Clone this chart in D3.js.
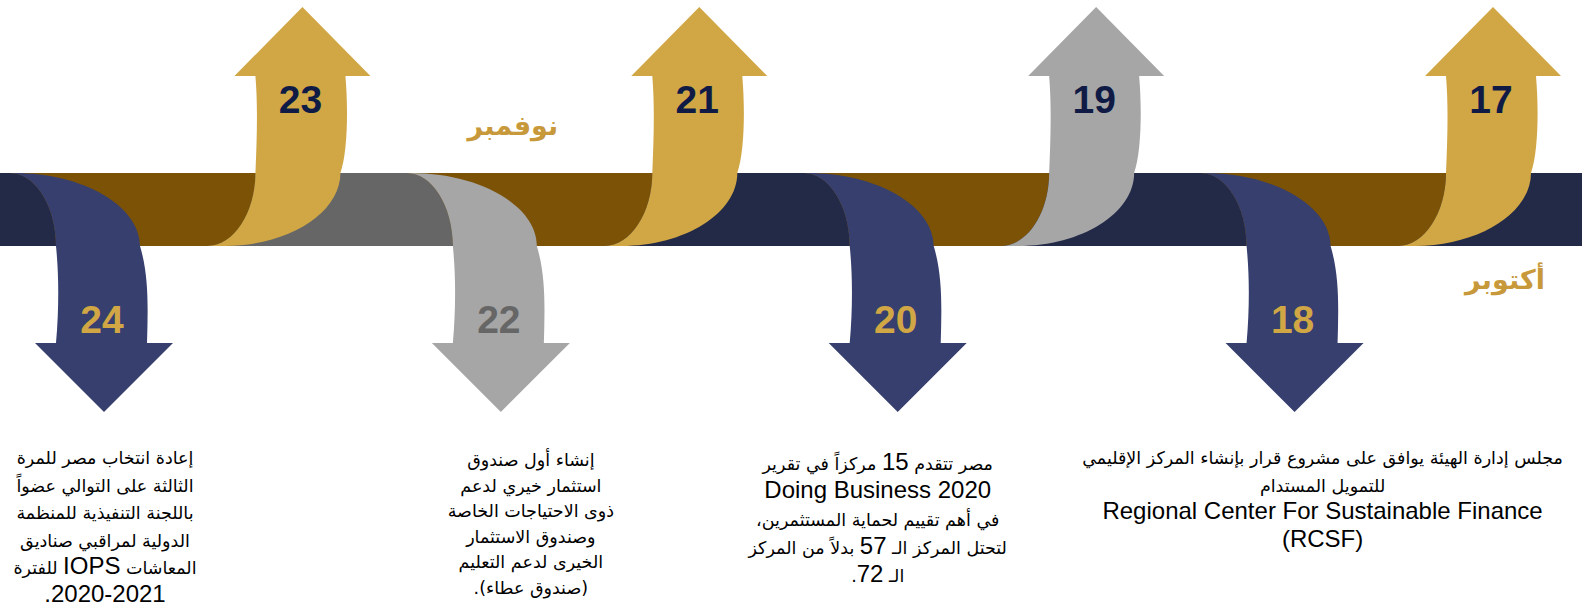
<!DOCTYPE html>
<html>
<head>
<meta charset="utf-8">
<script src="https://cdn.jsdelivr.net/npm/d3@7"></script>
<style>
  html, body { margin: 0; padding: 0; background: #ffffff; }
  svg { display: block; }
</style>
</head>
<body>
<svg id="timeline"></svg>
<script>
// timeline items, read right to left in the picture
const days = [24, 23, 22, 21, 20, 19, 18, 17];
const directions = ["down", "up", "down", "up", "down", "up", "down", "up"];

const months = ["نوفمبر", "أكتوبر"];
const monthDays = [22, 17];

const eventDays = [24, 22, 20, 18];
const eventLines = [
  ["إعادة انتخاب مصر للمرة", "الثالثة على التوالي عضواً", "باللجنة التنفيذية للمنظمة",
   "الدولية لمراقبي صناديق", "المعاشات IOPS للفترة", "2020-2021."],
  ["إنشاء أول صندوق", "استثمار خيري لدعم", "ذوى الاحتياجات الخاصة",
   "وصندوق الاستثمار", "الخيرى لدعم التعليم", "(صندوق عطاء)."],
  ["مصر تتقدم 15 مركزاً في تقرير", "Doing Business 2020", "في أهم تقييم لحماية المستثمرين،",
   "لتحتل المركز الـ 57 بدلاً من المركز", "الـ 72."],
  ["مجلس إدارة الهيئة يوافق على مشروع قرار بإنشاء المركز الإقليمي", "للتمويل المستدام",
   "Regional Center For Sustainable Finance", "(RCSF)"]
];

const width = 1582;
const height = 607;
const bandTop = 173;
const bandBottom = 246;

const navy = "#232a48";
const brown = "#7b5206";
const gold = "#d1a746";
const blue = "#363f6e";
const lightGrey = "#a6a6a6";
const darkGrey = "#666666";
const ink = "#0f1b45";

const arabicFont = "'DejaVu Sans', sans-serif";
const latinFont = "'Liberation Sans', Arial, sans-serif";

const svg = d3.select("#timeline")
  .attr("width", width)
  .attr("height", height)
  .attr("viewBox", `0 0 ${width} ${height}`);

const x = d3.scaleLinear().domain([24, 17]).range([104, 1493]);

const arrowFill = d3.scaleOrdinal()
  .domain(days)
  .range([blue, gold, lightGrey, gold, blue, lightGrey, blue, gold]);

const numberFill = d3.scaleOrdinal()
  .domain(days)
  .range([gold, ink, darkGrey, ink, gold, ink, gold, ink]);

// band colour to the right of each upward arrow
const trailFill = d3.scaleOrdinal()
  .domain(days.filter((d, i) => directions[i] === "up"))
  .range([darkGrey, navy, navy, navy]);

// shaft edges for an arrow whose head is at t
function upEdges(t) {
  const c = t - 4.5;
  return { L: c - 42.5, R: c + 42.5 };
}
function downEdges(t) {
  const c = t - 6;
  return { L: c - 42, R: c + 42 };
}

function upPath(t) {
  const { L, R } = upEdges(t);
  const yT = bandTop, yB = bandBottom;
  const headBase = 76, tipY = 7, half = 68;
  const p = d3.path();
  p.moveTo(L - 48, yB);
  p.bezierCurveTo(L - 22, yB, L, yT + 40, L, yT);
  p.bezierCurveTo(L + 1.5, yT - 35, L + 2.5, headBase + 30, L, headBase);
  p.lineTo(t - half, headBase);
  p.lineTo(t, tipY);
  p.lineTo(t + half, headBase);
  p.lineTo(R + 5, headBase);
  p.bezierCurveTo(R + 8, headBase + 35, R + 7, yT - 20, R, yT);
  const tail = L - 31;
  p.bezierCurveTo(R, yT + 40, tail + 0.55 * (R - tail), yB, tail, yB);
  p.closePath();
  return p.toString();
}

function downPath(t) {
  const { L, R } = downEdges(t);
  const yT = bandTop, yB = bandBottom;
  const headBase = 343, tipY = 412, half = 69;
  const p = d3.path();
  p.moveTo(L - 46, yT);
  p.lineTo(L - 42, yT);
  p.bezierCurveTo(L - 42 + 0.55 * (R - L + 42), yT, R, yB - 40, R, yB);
  p.bezierCurveTo(R + 9, yB + 30, R + 8, headBase - 35, R + 7, headBase);
  p.lineTo(t + half, headBase);
  p.lineTo(t, tipY);
  p.lineTo(t - half, headBase);
  p.lineTo(L, headBase);
  p.bezierCurveTo(L + 3, headBase - 35, L + 3, yB + 30, L, yB);
  p.bezierCurveTo(L, yB - 40, L - 21, yT, L - 46, yT);
  p.closePath();
  return p.toString();
}

// brown piece of band between a downward arrow and the upward one after it
function brownPath(dDown, dUp) {
  const Ld = downEdges(x(dDown)).L;
  const Lu = upEdges(x(dUp)).L;
  const yT = bandTop, yB = bandBottom;
  const p = d3.path();
  p.moveTo(Ld - 46, yT);
  p.lineTo(Lu, yT);
  p.bezierCurveTo(Lu, yT + 40, Lu - 22, yB, Lu - 48, yB);
  p.lineTo(Ld, yB);
  p.bezierCurveTo(Ld, yB - 40, Ld - 21, yT, Ld - 46, yT);
  p.closePath();
  return p.toString();
}

const items = days.map((d, i) => ({ day: d, dir: directions[i] }));
const ups = items.filter(d => d.dir === "up");
const downs = items.filter(d => d.dir === "down");

// base band
svg.append("rect")
  .attr("x", 0)
  .attr("y", bandTop)
  .attr("width", width)
  .attr("height", bandBottom - bandTop)
  .attr("fill", navy);

// band pieces right of each up arrow
svg.selectAll(".trail")
  .data(ups)
  .enter().append("rect")
  .attr("class", "trail")
  .attr("x", d => upEdges(x(d.day)).L - 48)
  .attr("y", bandTop)
  .attr("width", d => {
    const next = downs.find(e => e.day === d.day - 1);
    const end = next ? downEdges(x(next.day)).L : width;
    return end - (upEdges(x(d.day)).L - 48);
  })
  .attr("height", bandBottom - bandTop)
  .attr("fill", d => trailFill(d.day));

svg.selectAll(".brown")
  .data(downs)
  .enter().append("path")
  .attr("class", "brown")
  .attr("d", d => brownPath(d.day, d.day - 1))
  .attr("fill", brown);

// arrows
svg.selectAll(".arrow")
  .data(items)
  .enter().append("path")
  .attr("class", "arrow")
  .attr("d", d => d.dir === "up" ? upPath(x(d.day)) : downPath(x(d.day)))
  .attr("fill", d => arrowFill(d.day));

// day numbers
svg.selectAll(".num")
  .data(items)
  .enter().append("text")
  .attr("class", "num")
  .attr("x", d => x(d.day) - 2)
  .attr("y", d => d.dir === "up" ? 113 : 333)
  .attr("text-anchor", "middle")
  .style("font-family", latinFont)
  .style("font-weight", "bold")
  .style("font-size", "39px")
  .attr("fill", d => numberFill(d.day))
  .text(d => d.day);

// month names
const monthY = [135, 289];
svg.selectAll(".month")
  .data(months)
  .enter().append("text")
  .attr("class", "month")
  .attr("x", (d, i) => x(monthDays[i]) + 12)
  .attr("y", (d, i) => monthY[i])
  .attr("text-anchor", "middle")
  .attr("direction", "rtl")
  .style("font-family", arabicFont)
  .style("font-weight", "bold")
  .style("font-size", "27px")
  .attr("fill", "#c8993a")
  .text(d => d);

// event descriptions
const blockLayout = [
  { dx: 1, y0: 464, lh: 27.5 },
  { dx: 30, y0: 466, lh: 25.6 },
  { dx: -20, y0: 470, lh: 28 },
  { dx: 28, y0: 464, lh: 27.7 }
];
const latinRun = /[A-Za-z0-9][A-Za-z0-9 \-]*[A-Za-z0-9]|[A-Za-z0-9]/g;

function splitRuns(line) {
  if (!/[\u0600-\u06FF]/.test(line)) return [{ text: line, latin: true }];
  const runs = [];
  let last = 0;
  line.replace(latinRun, (m, offset) => {
    if (offset > last) runs.push({ text: line.slice(last, offset), latin: false });
    runs.push({ text: m, latin: true });
    last = offset + m.length;
    return m;
  });
  if (last < line.length) runs.push({ text: line.slice(last), latin: false });
  return runs;
}

eventDays.forEach((day, bi) => {
  const lay = blockLayout[bi];
  const g = svg.append("g").attr("class", "event");
  eventLines[bi].forEach((line, li) => {
    const t = g.append("text")
      .attr("x", x(day) + lay.dx)
      .attr("y", lay.y0 + li * lay.lh)
      .attr("text-anchor", "middle")
      .attr("direction", "rtl")
      .attr("fill", "#000");
    t.selectAll("tspan")
      .data(splitRuns(line))
      .enter().append("tspan")
      .style("font-family", r => r.latin ? latinFont : arabicFont)
      .style("font-size", r => r.latin ? "24px" : "17.5px")
      .text(r => r.text);
  });
});
</script>
</body>
</html>
